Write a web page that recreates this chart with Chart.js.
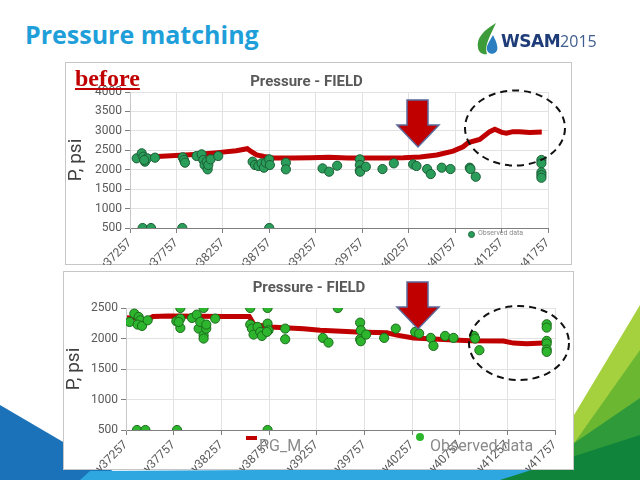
<!DOCTYPE html>
<html>
<head>
<meta charset="utf-8">
<script src="https://cdn.jsdelivr.net/npm/chart.js@4.4.0/dist/chart.umd.min.js"></script>
<style>
html, body { margin: 0; padding: 0; background: #fff; }
#slide { position: relative; width: 640px; height: 480px; overflow: hidden; background: #fff; font-family: Roboto, sans-serif; }
.frame { position: absolute; background: #fff; border: 1px solid #c6c6c6; box-sizing: border-box; }
.chartbox { position: absolute; }
#title { position: absolute; left: 25px; top: 17px; font-family: "Open Sans", sans-serif; font-weight: 700; font-size: 25px; color: #1f9fd9; }
#before { position: absolute; left: 75px; top: 65px; font-family: "Liberation Serif", serif; font-weight: 700; font-size: 24px; color: #c00000; text-decoration: underline; z-index: 6; }
.leg { position: absolute; color: #808080; white-space: nowrap; z-index: 6; }
.dot { position: absolute; border-radius: 50%; z-index: 6; }
#logo { position: absolute; left: 474px; top: 22px; z-index: 6; }
#logotext { position: absolute; left: 501px; top: 30px; font-size: 18px; white-space: nowrap; }
#logotext b { font-family: "DejaVu Sans", sans-serif; color: #1d3c78; font-size: 17px; letter-spacing: -0.5px; }
#logotext span { font-family: "Open Sans", sans-serif; color: #3f5e8f; font-size: 16px; }
svg.over { position: absolute; left: 0; top: 0; z-index: 5; }
</style>
</head>
<body>
<div id="slide">
  <!-- slide decoration -->
  <svg class="over" width="640" height="480" style="z-index:0">
    <polygon points="0,405 128,480 0,480" fill="#1b72b9"/>
    <polygon points="90,471 560,468 540,480 80,480" fill="#2ea6e0"/>
    <polygon points="640,305 535,480 640,480" fill="#a6d13f"/>
    <polygon points="640,350 548,480 640,480" fill="#6cb732"/>
    <polygon points="640,398 520,480 640,480" fill="#2f9a3a"/>
    <polygon points="640,435 500,480 640,480" fill="#10843a"/>
  </svg>

  <div id="title">Pressure matching</div>

  <svg id="logo" width="30" height="34">
    <path d="M22,1 C10,8 2,16 4,26 C5,31 9,33 13,32 C10,24 16,14 22,1 Z" fill="#3e9b3a"/>
    <path d="M19,13 C15,20 12,24 13,28 C14,32 19,33 22,30 C25,27 23,21 19,13 Z" fill="#2b7fc1"/>
  </svg>
  <div id="logotext" style="z-index:6"><b>WSAM</b><span>2015</span></div>

  <div class="frame" style="left:65px;top:62px;width:507px;height:203px;z-index:1"></div>
  <div class="chartbox" style="left:65px;top:62px;width:507px;height:203px;z-index:2"><canvas id="beforeChart"></canvas></div>

  <div class="frame" style="left:63px;top:271px;width:511px;height:199px;z-index:3"></div>
  <div class="chartbox" style="left:63px;top:272px;width:511px;height:198px;z-index:4"><canvas id="afterChart"></canvas></div>

  <div id="before">before</div>

  <!-- small legend inside top chart -->
  <div class="dot" style="left:468px;top:231px;width:7px;height:7px;background:#2a9d5a;border:1px solid #1d6a3a;box-sizing:border-box"></div>
  <div class="leg" style="left:478px;top:229px;font-size:7px;color:#8a8a8a">Observed data</div>

  <!-- legend of bottom chart -->
  <div class="leg" style="left:246px;top:436px;width:11px;height:4px;background:#c00000"></div>
  <div class="leg" style="left:259px;top:436px;font-size:16px;color:#8a8a8a">PG_M</div>
  <div class="dot" style="left:416px;top:433px;width:8px;height:8px;background:#2eb52e"></div>
  <div class="leg" style="left:430px;top:436px;font-size:16px;color:#8a8a8a">Observed data</div>

  <!-- annotations: arrows and dashed ellipses -->
  <svg class="over" width="640" height="480">
    <path d="M407,100 L428,100 L428,125 L439,125 L418,147 L397,125 L407,125 Z" fill="#c00000" stroke="#5a6a9c" stroke-width="1.5"/>
    <path d="M407,282 L428,282 L428,307 L439,307 L418,329 L397,307 L407,307 Z" fill="#c00000" stroke="#5a6a9c" stroke-width="1.5"/>
    <ellipse cx="515" cy="128" rx="50" ry="37.5" fill="none" stroke="#111" stroke-width="2" stroke-dasharray="7,5"/>
    <ellipse cx="519" cy="343" rx="50" ry="37" fill="none" stroke="#111" stroke-width="2" stroke-dasharray="7,5"/>
  </svg>
</div>

<script>
// x axis tick positions (day numbers)
const xTicks = [37257, 37757, 38257, 38757, 39257, 39757, 40257, 40757, 41257, 41757];

// "before" chart - observed pressure
const beforeObsX = [37329, 37383, 37400, 37418, 37443, 37410, 37526,
    37393, 37483, 37820, 38756,
    37824, 37838, 37849,
    37974, 38028, 38046, 38060, 38082, 38093, 38100, 38125, 38207,
    38577, 38602, 38638, 38673, 38699, 38720, 38756, 38763,
    38935, 38935,
    39330, 39401, 39487,
    39731, 39731, 39731, 39735, 39796,
    39975, 40097,
    40305, 40341, 40456, 40495, 40613, 40707,
    40915, 40922, 40979,
    41686, 41686, 41686, 41686, 41686];
const beforeObsY = [2293, 2422, 2336, 2207, 2293, 2250, 2310,
    500, 500, 500, 500,
    2319, 2250, 2181,
    2353, 2396, 2250, 2121, 2207, 2009, 2121, 2267, 2353,
    2207, 2121, 2095, 2164, 2052, 2181, 2267, 2121,
    2181, 2009,
    2034, 1948, 2103,
    2267, 2121, 1974, 1948, 2077,
    2017, 2164,
    2138, 2095, 2017, 1888, 2052, 2017,
    2052, 2017, 1819,
    2250, 2164, 1931, 1862, 1793];

// "before" chart - simulated pressure
const beforeSimX = [37290, 37400, 37550, 37800, 38000, 38200, 38400, 38520, 38560, 38620, 38700, 38800,
    39000, 39200, 39400, 39600, 39800, 40000, 40200, 40380, 40560, 40735, 40843, 40900,
    41022, 41130, 41184, 41260, 41310, 41380, 41450, 41560, 41690];
const beforeSimY = [2300, 2310, 2340, 2370, 2400, 2440, 2490, 2540, 2470, 2380, 2340, 2300,
    2300, 2310, 2320, 2300, 2300, 2300, 2305, 2330, 2380, 2480, 2590, 2700,
    2780, 2980, 3040, 2960, 2940, 2980, 2980, 2960, 2970];

// "after" chart - observed pressure
const afterObsX = [37295, 37344, 37390, 37407, 37379, 37425, 37484,
    37372, 37460, 37792, 38742,
    37785, 37827, 37827, 37827, 37809,
    37949, 37999, 38019, 38036, 38071, 38071, 38071, 38099, 38099, 38193,
    38560, 38560, 38578, 38595, 38637, 38665, 38683, 38742, 38742, 38752, 38735,
    38927, 38927,
    39322, 39381, 39479,
    39713, 39720, 39713, 39720, 39776,
    39965, 40087,
    40290, 40332, 40454, 40482, 40604, 40692,
    40908, 40919, 40964,
    41670, 41670, 41670, 41670, 41670, 41670];
const afterObsY = [2271, 2408, 2353, 2298, 2228, 2206, 2298,
    500, 500, 500, 500,
    2282, 2500, 2326, 2173, 2271,
    2337, 2391, 2162, 2271, 2500, 2053, 1999, 2162, 2228, 2326,
    2500, 2228, 2162, 2064, 2190, 2108, 2042, 2500, 2244, 2135, 2108,
    2162, 1988,
    2010, 1933, 2500,
    2260, 2135, 1988, 1955, 2064,
    2010, 2162,
    2108, 2081, 2010, 1879, 2042, 2010,
    2042, 1999, 1808,
    2233, 2179, 1961, 1917, 1819, 1781];

// "after" chart - simulated pressure (PG_M)
const afterSimX = [37267, 37400, 37470, 37540, 37700, 38000, 38300, 38550, 38600, 38770, 39119,
    39294, 39678, 39993, 40098, 40272, 40587, 40866, 41216, 41320, 41460, 41635];
const afterSimY = [2340, 2330, 2300, 2360, 2370, 2365, 2360, 2360, 2230, 2190, 2160,
    2135, 2105, 2095, 2055, 2010, 1985, 1965, 1960, 1925, 1915, 1925];

function toPoints(xs, ys) {
    return xs.map((x, i) => ({ x: x, y: ys[i] }));
}

function makeChart(canvasId, opts) {
    const ctx = document.getElementById(canvasId).getContext('2d');
    return new Chart(ctx, {
        type: 'scatter',
        data: {
            datasets: [{
                label: 'Observed data',
                data: toPoints(opts.obsX, opts.obsY),
                backgroundColor: opts.dotColor,
                borderColor: opts.dotBorder,
                borderWidth: 1,
                pointRadius: 4.6
            }, {
                label: 'PG_M',
                data: toPoints(opts.simX, opts.simY),
                showLine: true,
                borderColor: '#c00000',
                borderWidth: 5,
                pointRadius: 0,
                tension: 0
            }]
        },
        options: {
            responsive: true,
            maintainAspectRatio: false,
            animation: false,
            layout: { padding: { left: 0, right: opts.padRight, top: 0, bottom: 0 } },
            plugins: {
                legend: { display: false },
                tooltip: { enabled: false },
                title: {
                    display: true,
                    text: 'Pressure - FIELD',
                    color: '#595959',
                    font: { family: 'Roboto', size: 15, weight: 'bold', lineHeight: 1.2 },
                    padding: opts.titlePad
                }
            },
            scales: {
                x: {
                    type: 'linear',
                    min: 37257,
                    max: 41757,
                    afterBuildTicks: scale => { scale.ticks = xTicks.map(v => ({ value: v })); },
                    afterFit: scale => { scale.height = opts.xHeight; },
                    grid: { color: '#e2e2e2', tickColor: '#7f7f7f', tickLength: 5 },
                    border: { color: '#7f7f7f' },
                    ticks: {
                        minRotation: 45,
                        maxRotation: 45,
                        autoSkip: false,
                        color: '#595959',
                        font: { family: 'Roboto', size: 12 },
                        callback: v => 'y' + v
                    }
                },
                y: {
                    min: 500,
                    max: opts.yMax,
                    afterFit: scale => { scale.width = opts.yWidth; },
                    grid: { color: '#e2e2e2', tickColor: '#7f7f7f', tickLength: 5 },
                    border: { color: '#c8c8c8' },
                    ticks: {
                        stepSize: 500,
                        color: '#595959',
                        font: { family: 'Roboto', size: 12 },
                        callback: v => String(v)
                    },
                    title: {
                        display: true,
                        text: 'P, psi',
                        color: '#404040',
                        font: { family: 'Roboto', size: 19 },
                        padding: { top: 0, bottom: 2 }
                    }
                }
            }
        }
    });
}

makeChart('beforeChart', {
    obsX: beforeObsX, obsY: beforeObsY, simX: beforeSimX, simY: beforeSimY,
    dotColor: '#2a9d5a', dotBorder: '#1b5e35',
    yMax: 4000, yWidth: 65, xHeight: 37, padRight: 24,
    titlePad: { top: 11, bottom: 1 }
});

makeChart('afterChart', {
    obsX: afterObsX, obsY: afterObsY, simX: afterSimX, simY: afterSimY,
    dotColor: '#2eb52e', dotBorder: '#1c6b1c',
    yMax: 2500, yWidth: 63, xHeight: 40, padRight: 19,
    titlePad: { top: 7, bottom: 11 }
});
</script>
</body>
</html>
